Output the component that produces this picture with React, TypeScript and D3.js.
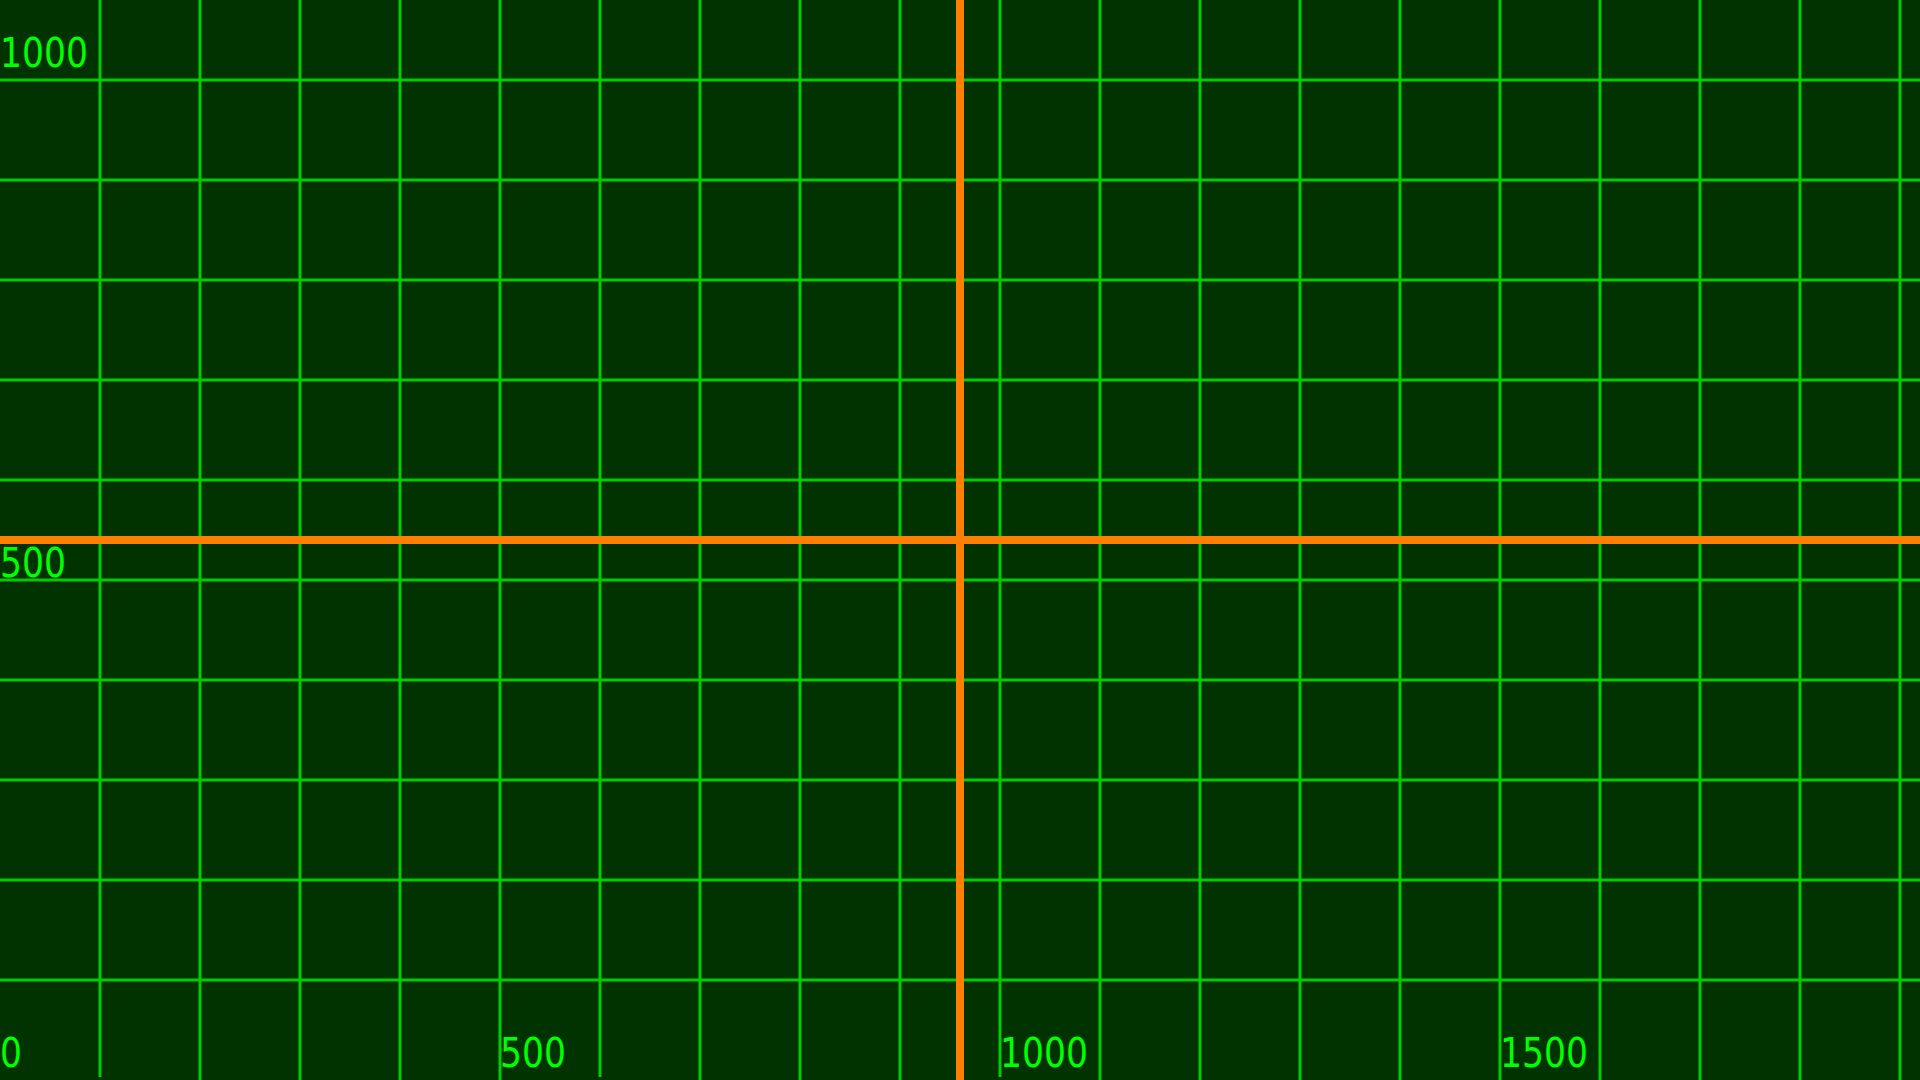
import React from "react";
import * as d3 from "d3";

const WIDTH = 1920;
const HEIGHT = 1080;

const xGridValues = [100, 200, 300, 400, 500, 600, 700, 800, 900, 1000, 1100, 1200, 1300, 1400, 1500, 1600, 1700, 1800, 1900];
const xGridShortValues = [100, 600, 1000];
const yGridValues = [100, 200, 300, 400, 500, 600, 700, 800, 900, 1000];
const xTickLabels = [0, 500, 1000, 1500];
const yTickLabels = [500, 1000];
const crosshair = [960, 540];

export default function App() {
  const x = d3.scaleLinear().domain([0, WIDTH]).range([0, WIDTH]);
  const y = d3.scaleLinear().domain([0, HEIGHT]).range([HEIGHT, 0]);
  const grid = "#00cc00";
  const text = "#00ff00";
  const orange = "#ff8000";
  const font = "'DejaVu Sans Condensed', 'DejaVu Sans', sans-serif";
  const cy = y(crosshair[1]);
  const sx = 0.96;

  return (
    <svg
      width={WIDTH}
      height={HEIGHT}
      style={{ position: "fixed", left: 0, top: 0, display: "block" }}
    >
      <rect x={0} y={0} width={WIDTH} height={HEIGHT} fill="#003300" />
      {xGridValues.map((v) => (
        <line
          key={"vx" + v}
          x1={x(v)}
          x2={x(v)}
          y1={0}
          y2={xGridShortValues.includes(v) ? HEIGHT - 3 : HEIGHT}
          stroke={grid}
          strokeWidth={3}
        />
      ))}
      {yGridValues.map((v) => (
        <line key={"hy" + v} x1={0} x2={WIDTH} y1={y(v)} y2={y(v)} stroke={grid} strokeWidth={3} />
      ))}
      <line x1={x(crosshair[0])} x2={x(crosshair[0])} y1={0} y2={HEIGHT} stroke={orange} strokeWidth={8} />
      <line x1={0} x2={WIDTH} y1={cy} y2={cy} stroke={orange} strokeWidth={8} />
      {xTickLabels.map((v) => (
        <text
          key={"xl" + v}
          transform={`translate(${x(v)},${y(0) - 13}) scale(${sx},1)`}
          fill={text}
          fontFamily={font}
          fontSize={40}
        >
          {v}
        </text>
      ))}
      {yTickLabels.map((v) => {
        let base = y(v) - 13;
        // keep label clear of the horizontal crosshair
        if (base - 30 < cy + 4 && base > cy - 4) base = cy + 4 + 33;
        return (
          <text
            key={"yl" + v}
            transform={`translate(0,${base}) scale(${sx},1)`}
            fill={text}
            fontFamily={font}
            fontSize={40}
          >
            {v}
          </text>
        );
      })}
    </svg>
  );
}
